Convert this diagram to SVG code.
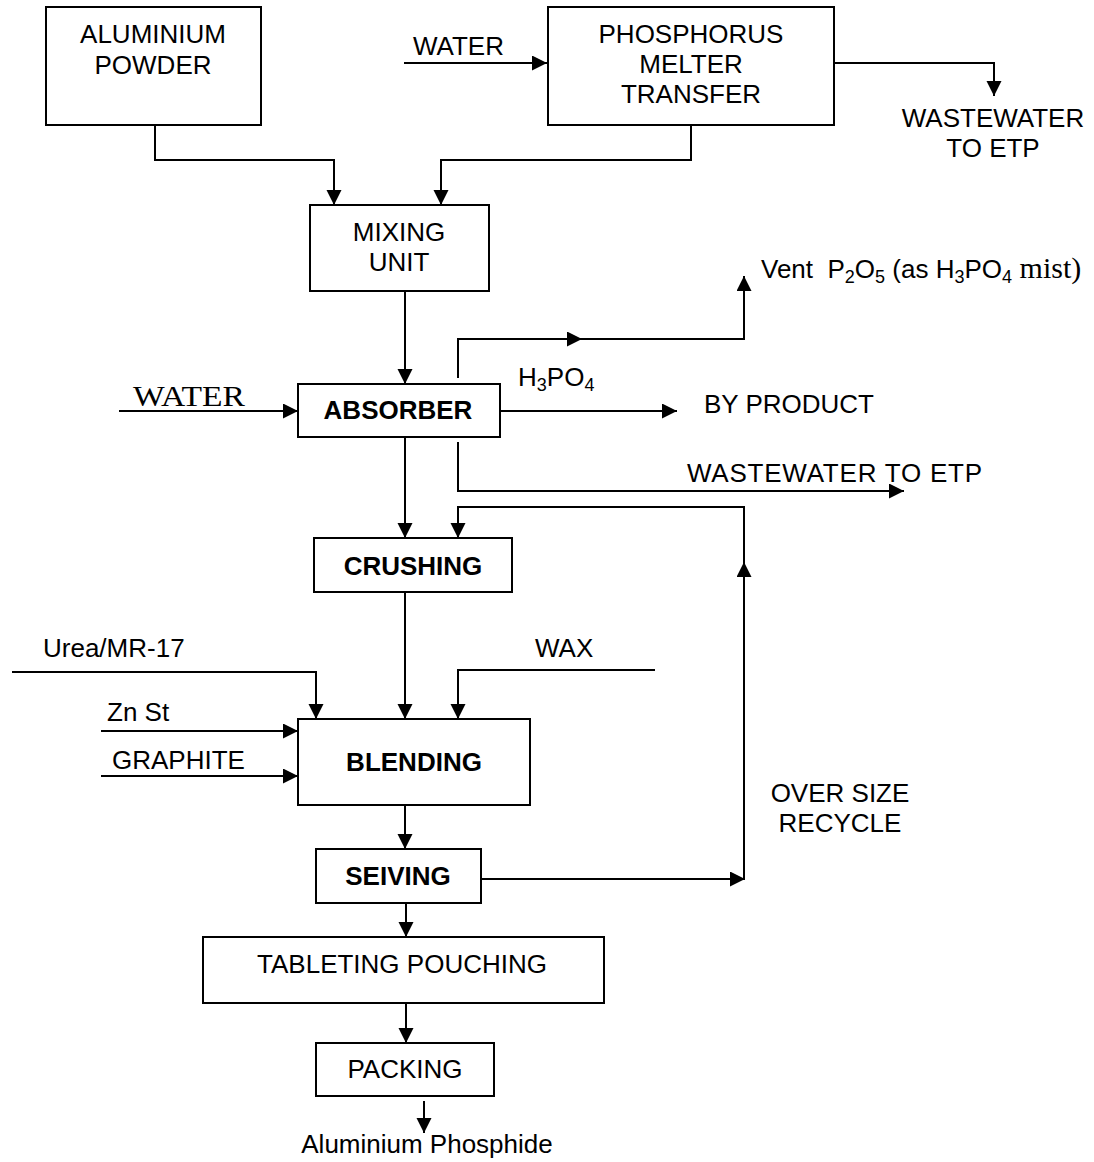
<svg xmlns="http://www.w3.org/2000/svg" width="1094" height="1162" viewBox="0 0 1094 1162">
<style>
.box{fill:#fff;stroke:#000;stroke-width:2}
.ln{fill:none;stroke:#000;stroke-width:2}
.t{font-family:"Liberation Sans",Arial,sans-serif;font-size:26px;fill:#000}
.c{text-anchor:middle}
.b{font-weight:bold}
.tm{font-family:"Liberation Serif","Times New Roman",serif;fill:#000}
</style>
<defs>
<marker id="ah" markerUnits="userSpaceOnUse" markerWidth="16" markerHeight="16" refX="15" refY="7.5" orient="auto">
<path d="M0,0 L15,7.5 L0,15 z" fill="#000"/>
</marker>
</defs>
<rect width="1094" height="1162" fill="#fff"/>

<g id="connectors">
<path class="ln" d="M155,125 V160 H334 V205" marker-end="url(#ah)"/>
<path class="ln" d="M691,125 V160 H441 V205" marker-end="url(#ah)"/>
<path class="ln" d="M404,63 H547" marker-end="url(#ah)"/>
<path class="ln" d="M834,63 H994 V96" marker-end="url(#ah)"/>
<path class="ln" d="M405,291 V384" marker-end="url(#ah)"/>
<path class="ln" d="M119,411 H298" marker-end="url(#ah)"/>
<path class="ln" d="M458,378 V339 H582" marker-end="url(#ah)"/>
<path class="ln" d="M580,339 H744 V276" marker-end="url(#ah)"/>
<path class="ln" d="M500,411 H677" marker-end="url(#ah)"/>
<path class="ln" d="M458,442 V491 H904" marker-end="url(#ah)"/>
<path class="ln" d="M405,437 V538" marker-end="url(#ah)"/>
<path class="ln" d="M405,592 V719" marker-end="url(#ah)"/>
<path class="ln" d="M12,672 H316 V719" marker-end="url(#ah)"/>
<path class="ln" d="M655,670 H458 V719" marker-end="url(#ah)"/>
<path class="ln" d="M101,731 H298" marker-end="url(#ah)"/>
<path class="ln" d="M101,776 H298" marker-end="url(#ah)"/>
<path class="ln" d="M405,805 V849" marker-end="url(#ah)"/>
<path class="ln" d="M481,879 H745" marker-end="url(#ah)"/>
<path class="ln" d="M744,879 V562" marker-end="url(#ah)"/>
<path class="ln" d="M744,564 V507 H458 V538" marker-end="url(#ah)"/>
<path class="ln" d="M406,903 V937" marker-end="url(#ah)"/>
<path class="ln" d="M406,1003 V1043" marker-end="url(#ah)"/>
<path class="ln" d="M424,1101 V1133" marker-end="url(#ah)"/>
</g>

<g id="aluminium-powder">
<rect class="box" x="46" y="7" width="215" height="118"/>
<text class="t c" x="153" y="43">ALUMINIUM</text>
<text class="t c" x="153" y="74">POWDER</text>
</g>

<g id="phosphorus-melter">
<rect class="box" x="548" y="7" width="286" height="118"/>
<text class="t c" x="691" y="43">PHOSPHORUS</text>
<text class="t c" x="691" y="73">MELTER</text>
<text class="t c" x="691" y="103">TRANSFER</text>
</g>

<g id="mixing-unit">
<rect class="box" x="310" y="205" width="179" height="86"/>
<text class="t c" x="399" y="241">MIXING</text>
<text class="t c" x="399" y="271">UNIT</text>
</g>

<g id="absorber">
<rect class="box" x="298" y="384" width="202" height="53"/>
<text class="t c b" x="398" y="419">ABSORBER</text>
</g>

<g id="crushing">
<rect class="box" x="314" y="538" width="198" height="54"/>
<text class="t c b" x="413" y="575">CRUSHING</text>
</g>

<g id="blending">
<rect class="box" x="298" y="719" width="232" height="86"/>
<text class="t c b" x="414" y="771">BLENDING</text>
</g>

<g id="seiving">
<rect class="box" x="316" y="849" width="165" height="54"/>
<text class="t c b" x="398" y="885">SEIVING</text>
</g>

<g id="tableting-pouching">
<rect class="box" x="203" y="937" width="401" height="66"/>
<text class="t c" x="402" y="973">TABLETING POUCHING</text>
</g>

<g id="packing">
<rect class="box" x="316" y="1043" width="178" height="53"/>
<text class="t c" x="405" y="1078">PACKING</text>
</g>

<g id="labels">
<text class="t" x="413" y="55">WATER</text>
<text class="t c" x="993" y="127">WASTEWATER</text>
<text class="t c" x="993" y="157">TO ETP</text>
<text class="t" x="761" y="278">Vent&#160; P<tspan font-size="18" dy="5">2</tspan><tspan dy="-5">O</tspan><tspan font-size="18" dy="5">5</tspan><tspan dy="-5"> (as H</tspan><tspan font-size="18" dy="5">3</tspan><tspan dy="-5">PO</tspan><tspan font-size="18" dy="5">4</tspan><tspan dy="-5" class="tm" font-size="30"> mist)</tspan></text>
<text class="tm" x="133" y="406" font-size="30" textLength="112" lengthAdjust="spacingAndGlyphs">WATER</text>
<text class="t" x="518" y="386">H<tspan font-size="18" dy="5">3</tspan><tspan dy="-5">PO</tspan><tspan font-size="18" dy="5">4</tspan></text>
<text class="t" x="704" y="413">BY PRODUCT</text>
<text class="t" x="687" y="482" textLength="295">WASTEWATER TO ETP</text>
<text class="t" x="43" y="657">Urea/MR-17</text>
<text class="t" x="535" y="657">WAX</text>
<text class="t" x="107" y="721">Zn St</text>
<text class="t" x="112" y="769">GRAPHITE</text>
<text class="t c" x="840" y="802">OVER SIZE</text>
<text class="t c" x="840" y="832">RECYCLE</text>
<text class="t c" x="427" y="1153">Aluminium Phosphide</text>
</g>
</svg>
